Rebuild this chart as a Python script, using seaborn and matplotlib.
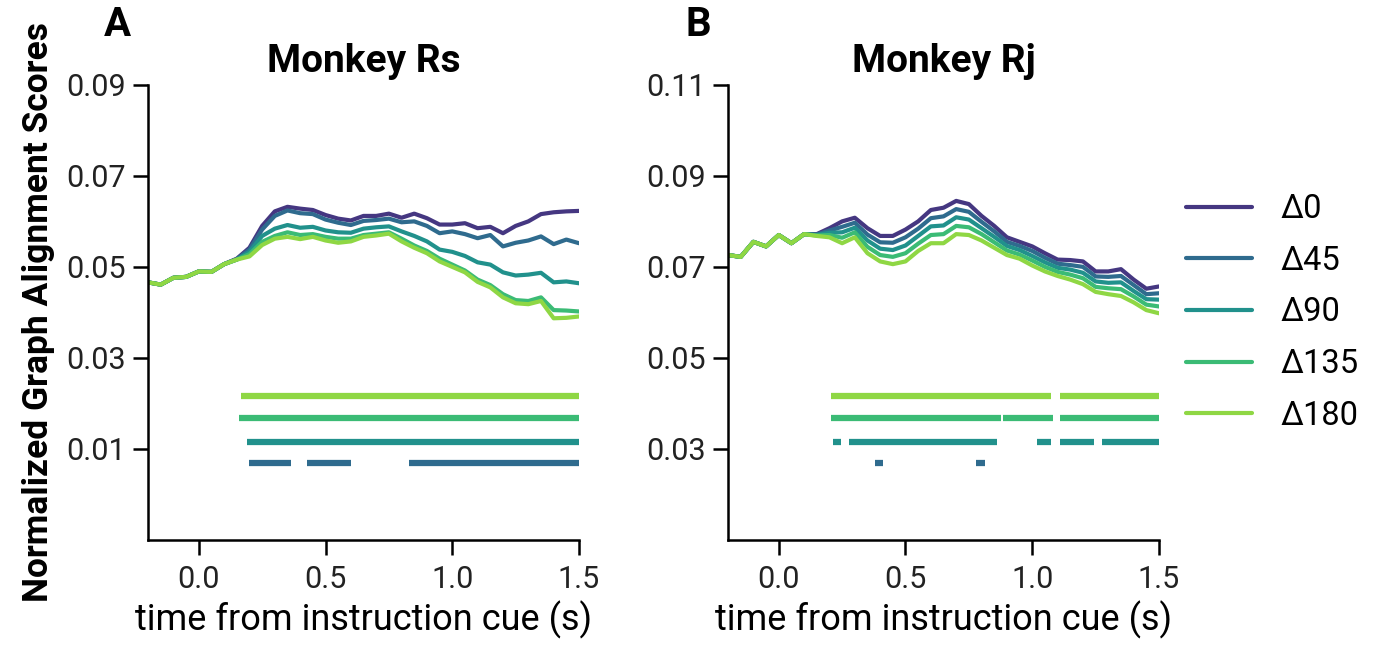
import numpy as np
import pandas as pd
import matplotlib
matplotlib.use("Agg")
import matplotlib.pyplot as plt
import seaborn as sns
from matplotlib.ticker import FormatStrFormatter

# ---------------- data ----------------
time = [-0.2, -0.15, -0.1, -0.05, 0.0, 0.05, 0.1, 0.15, 0.2, 0.25, 0.3, 0.35,
        0.4, 0.45, 0.5, 0.55, 0.6, 0.65, 0.7, 0.75, 0.8, 0.85, 0.9, 0.95, 1.0,
        1.05, 1.1, 1.15, 1.2, 1.25, 1.3, 1.35, 1.4, 1.45, 1.5]

conditions = ["Δ0", "Δ45", "Δ90", "Δ135", "Δ180"]
colors = ["#453781", "#2f6b8e", "#21918c", "#3bbb75", "#8fd744"]

# Monkey Rs
rs_d0 = [0.0466, 0.0461, 0.0476, 0.0478, 0.0490, 0.0489, 0.0506, 0.0518, 0.0542,
         0.0590, 0.0622, 0.0632, 0.0628, 0.0625, 0.0614, 0.0606, 0.0602, 0.0612,
         0.0612, 0.0617, 0.0608, 0.0617, 0.0607, 0.0593, 0.0593, 0.0596, 0.0585,
         0.0588, 0.0574, 0.0590, 0.0600, 0.0616, 0.0620, 0.0622, 0.0623]
rs_d45 = [0.0466, 0.0461, 0.0476, 0.0478, 0.0490, 0.0489, 0.0506, 0.0517, 0.0538,
          0.0582, 0.0612, 0.0624, 0.0618, 0.0616, 0.0604, 0.0597, 0.0592, 0.0601,
          0.0603, 0.0606, 0.0598, 0.0600, 0.0590, 0.0574, 0.0578, 0.0572, 0.0563,
          0.0570, 0.0545, 0.0553, 0.0558, 0.0567, 0.0550, 0.0560, 0.0552]
rs_d90 = [0.0466, 0.0461, 0.0476, 0.0478, 0.0490, 0.0489, 0.0506, 0.0516, 0.0533,
          0.0568, 0.0584, 0.0592, 0.0586, 0.0588, 0.0580, 0.0576, 0.0575, 0.0584,
          0.0587, 0.0589, 0.0578, 0.0568, 0.0556, 0.0538, 0.0533, 0.0524, 0.0510,
          0.0505, 0.0488, 0.0481, 0.0483, 0.0487, 0.0466, 0.0468, 0.0464]
rs_d135 = [0.0466, 0.0461, 0.0476, 0.0478, 0.0490, 0.0489, 0.0506, 0.0516, 0.0528,
           0.0555, 0.0568, 0.0576, 0.0570, 0.0572, 0.0566, 0.0562, 0.0562, 0.0570,
           0.0573, 0.0576, 0.0562, 0.0547, 0.0535, 0.0518, 0.0505, 0.0492, 0.0472,
           0.0460, 0.0440, 0.0427, 0.0425, 0.0433, 0.0405, 0.0404, 0.0402]
rs_d180 = [0.0466, 0.0461, 0.0476, 0.0478, 0.0490, 0.0489, 0.0506, 0.0516, 0.0523,
           0.0548, 0.0562, 0.0566, 0.0561, 0.0566, 0.0558, 0.0553, 0.0556, 0.0566,
           0.0569, 0.0573, 0.0556, 0.0542, 0.0530, 0.0512, 0.0500, 0.0488, 0.0467,
           0.0455, 0.0433, 0.0420, 0.0418, 0.0425, 0.0387, 0.0388, 0.0391]

# Monkey Rj
rj_d0 = [0.0726, 0.0722, 0.0755, 0.0745, 0.0770, 0.0752, 0.0772, 0.0772, 0.0785,
         0.0800, 0.0808, 0.0785, 0.0768, 0.0768, 0.0782, 0.0800, 0.0825, 0.0830,
         0.0845, 0.0838, 0.0812, 0.0790, 0.0765, 0.0755, 0.0745, 0.0730, 0.0716,
         0.0715, 0.0712, 0.0690, 0.0690, 0.0695, 0.0672, 0.0652, 0.0657]
rj_d45 = [0.0726, 0.0722, 0.0755, 0.0745, 0.0770, 0.0752, 0.0772, 0.0771, 0.0780,
          0.0788, 0.0797, 0.0771, 0.0754, 0.0753, 0.0765, 0.0784, 0.0807, 0.0811,
          0.0827, 0.0821, 0.0799, 0.0778, 0.0755, 0.0746, 0.0735, 0.0720, 0.0707,
          0.0704, 0.0700, 0.0679, 0.0678, 0.0680, 0.0660, 0.0640, 0.0642]
rj_d90 = [0.0726, 0.0722, 0.0755, 0.0745, 0.0770, 0.0752, 0.0772, 0.0770, 0.0775,
          0.0776, 0.0786, 0.0758, 0.0740, 0.0737, 0.0747, 0.0768, 0.0789, 0.0791,
          0.0809, 0.0804, 0.0785, 0.0766, 0.0746, 0.0737, 0.0724, 0.0710, 0.0698,
          0.0694, 0.0687, 0.0668, 0.0665, 0.0666, 0.0647, 0.0629, 0.0628]
rj_d135 = [0.0726, 0.0722, 0.0755, 0.0745, 0.0770, 0.0752, 0.0772, 0.0769, 0.0770,
           0.0764, 0.0776, 0.0744, 0.0726, 0.0722, 0.0730, 0.0751, 0.0770, 0.0772,
           0.0790, 0.0787, 0.0772, 0.0754, 0.0736, 0.0727, 0.0714, 0.0700, 0.0689,
           0.0683, 0.0675, 0.0656, 0.0653, 0.0651, 0.0635, 0.0617, 0.0613]
rj_d180 = [0.0726, 0.0722, 0.0755, 0.0745, 0.0770, 0.0752, 0.0772, 0.0768, 0.0765,
           0.0752, 0.0765, 0.0730, 0.0712, 0.0706, 0.0712, 0.0735, 0.0752, 0.0752,
           0.0772, 0.0770, 0.0758, 0.0742, 0.0726, 0.0718, 0.0703, 0.0690, 0.0680,
           0.0672, 0.0662, 0.0645, 0.0640, 0.0636, 0.0622, 0.0605, 0.0598]

# significance bars: y level per condition, and list of (start, end) intervals
rs_sig_levels = {"Δ180": 0.0217, "Δ135": 0.0168, "Δ90": 0.0115, "Δ45": 0.0068}
rs_sig = {
    "Δ180": [(0.166, 1.5)],
    "Δ135": [(0.158, 1.5)],
    "Δ90": [(0.19, 1.5)],
    "Δ45": [(0.198, 0.363), (0.426, 0.60), (0.828, 1.5)],
}
rj_sig_levels = {"Δ180": 0.0417, "Δ135": 0.0368, "Δ90": 0.0315, "Δ45": 0.0268}
rj_sig = {
    "Δ180": [(0.205, 1.072), (1.111, 1.5)],
    "Δ135": [(0.205, 0.875), (0.883, 1.08), (1.111, 1.5)],
    "Δ90": [(0.213, 0.245), (0.276, 0.859), (1.017, 1.072), (1.111, 1.245), (1.276, 1.5)],
    "Δ45": [(0.379, 0.41), (0.78, 0.812)],
}

xticks = [0.0, 0.5, 1.0, 1.5]
rs_yticks = [0.01, 0.03, 0.05, 0.07, 0.09]
rj_yticks = [0.03, 0.05, 0.07, 0.09, 0.11]


def long_df(series):
    rows = []
    for cond, vals in zip(conditions, series):
        for t, v in zip(time, vals):
            rows.append((t, v, cond))
    return pd.DataFrame(rows, columns=["time", "score", "condition"])


df_rs = long_df([rs_d0, rs_d45, rs_d90, rs_d135, rs_d180])
df_rj = long_df([rj_d0, rj_d45, rj_d90, rj_d135, rj_d180])

# ---------------- style ----------------
sns.set_theme(style="ticks")
plt.rcParams["font.family"] = ["Roboto", "DejaVu Sans"]
plt.rcParams.update({
    "axes.linewidth": 1.8,
    "xtick.major.width": 1.8,
    "ytick.major.width": 1.8,
    "xtick.major.size": 11,
    "ytick.major.size": 11,
    "xtick.major.pad": 7,
    "ytick.major.pad": 5,
    "xtick.labelsize": 22,
    "ytick.labelsize": 22,
    "xtick.color": "black",
    "ytick.color": "black",
    "xtick.labelcolor": "#222222",
    "ytick.labelcolor": "#222222",
    "axes.edgecolor": "black",
    "text.color": "black",
    "axes.labelcolor": "black",
})

palette = dict(zip(conditions, colors))

fig = plt.figure(figsize=(13.76, 6.45), dpi=100)
ax1 = fig.add_axes([0.1076, 0.163, 0.3132, 0.7054])
ax2 = fig.add_axes([0.5291, 0.163, 0.3132, 0.7054])

panels = [
    (ax1, df_rs, "Monkey Rs", "A", rs_sig, rs_sig_levels, (-0.01, 0.09), rs_yticks),
    (ax2, df_rj, "Monkey Rj", "B", rj_sig, rj_sig_levels, (0.01, 0.11), rj_yticks),
]

for ax, df, title, letter, sig, levels, ylim, yticks in panels:
    sns.lineplot(data=df, x="time", y="score", hue="condition",
                 hue_order=conditions, palette=palette, linewidth=3,
                 ax=ax, legend=(ax is ax2))
    for cond in ["Δ180", "Δ135", "Δ90", "Δ45"]:
        for (s, e) in sig[cond]:
            ax.hlines(levels[cond], s, e, color=palette[cond], linewidth=4.5)
    ax.set_xlim(-0.2, 1.5)
    ax.set_ylim(*ylim)
    ax.set_xticks(xticks)
    ax.set_yticks(yticks)
    ax.xaxis.set_major_formatter(FormatStrFormatter("%.1f"))
    ax.yaxis.set_major_formatter(FormatStrFormatter("%.2f"))
    ax.set_xlabel("time from instruction cue (s)", fontsize=26, labelpad=5)
    ax.set_ylabel("")
    ax.set_title(title, fontsize=28, fontweight="bold", pad=9)
    ax.text(-0.07, 1.132, letter, transform=ax.transAxes, fontsize=29,
            fontweight="bold", ha="center", va="center")
    sns.despine(ax=ax)

ax1.set_ylabel("Normalized Graph Alignment Scores", fontsize=25.5,
               fontweight="bold", labelpad=8)

handles, labels = ax2.get_legend_handles_labels()
ax2.legend(handles, labels, loc="center left", bbox_to_anchor=(0.995, 0.5),
           frameon=False, fontsize=23.5, handlelength=2.0, handletextpad=0.9,
           labelspacing=0.6)

fig.savefig("out.png", dpi=100)
